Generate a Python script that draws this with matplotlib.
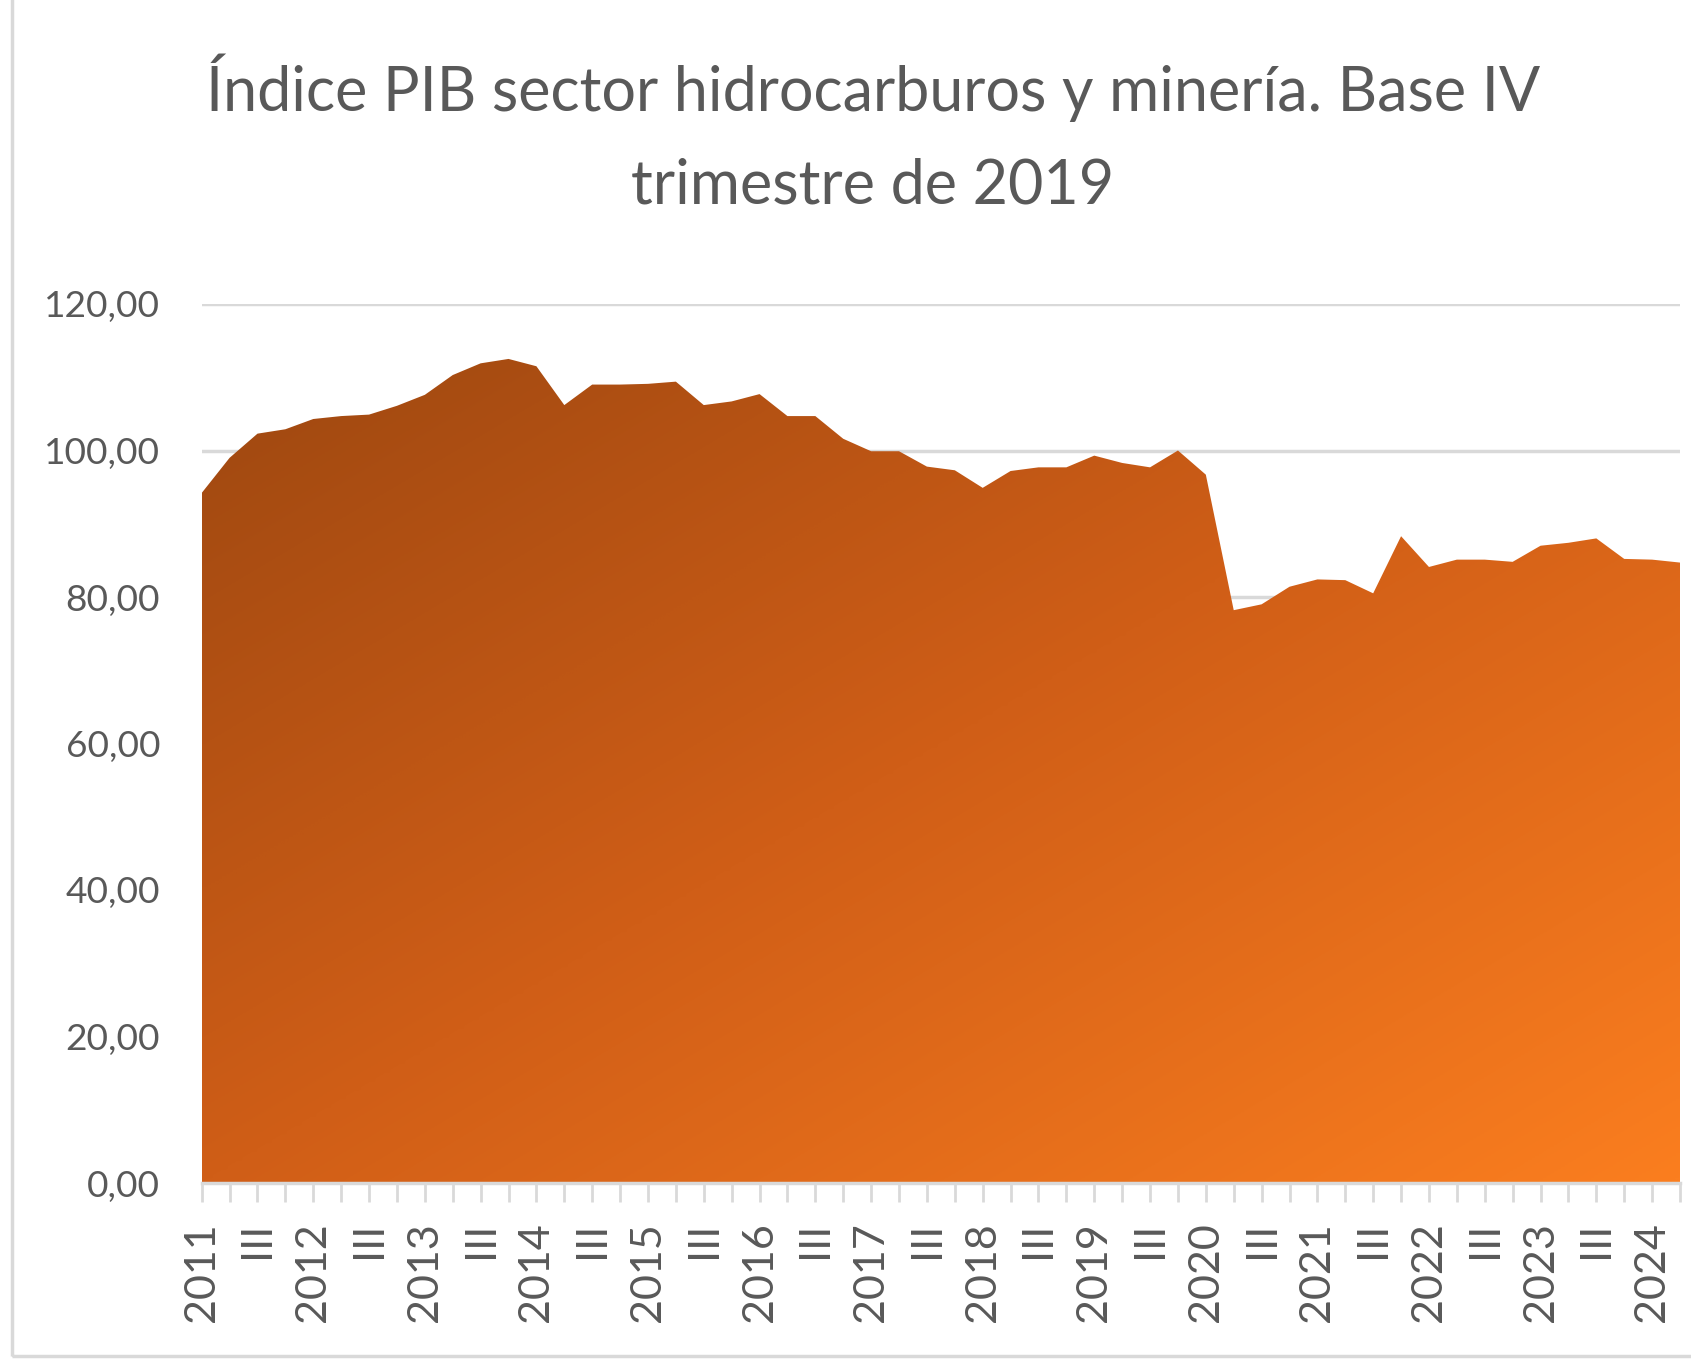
import numpy as np
import matplotlib
matplotlib.use("Agg")
import matplotlib.pyplot as plt
from matplotlib import font_manager
from matplotlib.colors import LinearSegmentedColormap
from matplotlib.patches import Rectangle

# Índice trimestral, 2011-I a 2024-II (base IV trimestre 2019)
years = list(range(2011, 2025))
quarters = ["I", "II", "III", "IV"]
indice = [94.2, 99.0, 102.3, 102.9, 104.3, 104.7, 104.9, 106.1, 107.6, 110.3,
          111.9, 112.5, 111.5, 106.2, 109.0, 109.0, 109.1, 109.4, 106.2, 106.7,
          107.7, 104.7, 104.7, 101.6, 99.9, 99.9, 97.8, 97.3, 94.9, 97.2,
          97.7, 97.7, 99.3, 98.3, 97.7, 100.0, 96.7, 78.2, 79.0, 81.4,
          82.4, 82.3, 80.5, 88.3, 84.1, 85.1, 85.1, 84.8, 87.0, 87.4,
          88.0, 85.2, 85.1, 84.7]
y_ticks = [0, 20, 40, 60, 80, 100, 120]

# etiquetas de categoria: año en el I trimestre, numeral romano en los demás
categorias = []
for yr in years:
    for q in quarters:
        categorias.append(str(yr) if q == "I" else q)
categorias = categorias[:len(indice)]

installed = {f.name for f in font_manager.fontManager.ttflist}
FAM = "Liberation Sans Narrow" if "Liberation Sans Narrow" in installed else "Lato"
GRIS = "#595959"
LINEA = "#d9d9d9"

W, H = 1691, 1362
fig = plt.figure(figsize=(W / 100, H / 100), dpi=100)
renderer = fig.canvas.get_renderer()


def fit_size(text, width_px, rotation=0):
    t = fig.text(0, 0, text, family=FAM, fontsize=20)
    bb = t.get_window_extent(renderer)
    t.remove()
    return 20 * width_px / bb.width


ax = fig.add_axes([201.7 / W, 1 - 1183 / H, (1680 - 201.7) / W, (1183 - 304) / H])

x = np.arange(len(indice))
n = len(indice) - 1

# relleno con degradado diagonal
cmap = LinearSegmentedColormap.from_list(
    "naranja", [(0, "#9a4610"), (0.5, "#d05e17"), (1, "#fb7e1f")])
u, v = np.meshgrid(np.linspace(0, 1, 400), np.linspace(0, 1, 400))
grad = (u + v) / 2
poly = ax.fill_between(x, indice, 0, color="none", lw=0, zorder=2)
img = ax.imshow(grad, cmap=cmap, extent=[0, n, 0, 120], origin="upper",
                aspect="auto", zorder=2, interpolation="bilinear")
img.set_clip_path(poly.get_paths()[0], transform=ax.transData)

ax.set_xlim(0, n)
ax.set_ylim(0, 120)

ax.set_yticks(y_ticks)
ax.set_yticklabels([f"{t:.2f}".replace(".", ",") for t in y_ticks])
ax.yaxis.grid(True, color=LINEA, lw=2.5, zorder=0)
ax.set_axisbelow(True)

ax.set_xticks(x)
ax.set_xticklabels([c if i % 2 == 0 else "" for i, c in enumerate(categorias)],
                   rotation=90)

for s in ["top", "right", "left"]:
    ax.spines[s].set_visible(False)
ax.spines["bottom"].set_color(LINEA)
ax.spines["bottom"].set_linewidth(2.5)
ax.spines["bottom"].set_zorder(3)

ysize = fit_size("120,00", 116)
xsize = fit_size("2011", 100)
ax.tick_params(axis="y", length=0, pad=30, labelsize=ysize, labelcolor=GRIS)
ax.tick_params(axis="x", length=14, width=2, color=LINEA, pad=14,
               labelsize=xsize, labelcolor=GRIS)
for lab in ax.get_xticklabels() + ax.get_yticklabels():
    lab.set_family(FAM)

tsize = fit_size("Índice PIB sector hidrocarburos y minería. Base IV", 1337)
fig.text(873 / W, 1 - 88 / H, "Índice PIB sector hidrocarburos y minería. Base IV",
         family=FAM, fontsize=tsize, color=GRIS, ha="center", va="center")
fig.text(873 / W, 1 - 186 / H, "trimestre de 2019",
         family=FAM, fontsize=tsize, color=GRIS, ha="center", va="center")

# borde del área del gráfico
fig.patches.append(Rectangle((12 / W, 1 - 1356 / H), 1.2, 1356 / H + 0.1,
                             transform=fig.transFigure, fill=False,
                             edgecolor=LINEA, lw=2.5))

fig.savefig("out.png", dpi=100)
